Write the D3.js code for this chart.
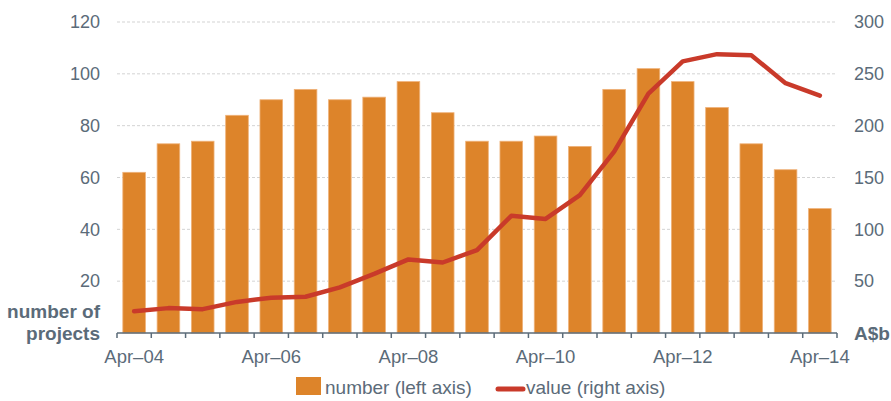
<!DOCTYPE html>
<html>
<head>
<meta charset="utf-8">
<script src="https://cdn.jsdelivr.net/npm/d3@7"></script>
<style>
  body { margin: 0; background: #fff; }
  svg { font-family: "Liberation Sans", Arial, sans-serif; }
</style>
</head>
<body>
<div id="chart"></div>
<script>
// half-yearly periods, Apr-04 .. Apr-14
const periods = ["Apr-04", "Oct-04", "Apr-05", "Oct-05", "Apr-06", "Oct-06", "Apr-07", "Oct-07",
  "Apr-08", "Oct-08", "Apr-09", "Oct-09", "Apr-10", "Oct-10", "Apr-11", "Oct-11",
  "Apr-12", "Oct-12", "Apr-13", "Oct-13", "Apr-14"];
const tickLabels = ["Apr–04", "Apr–06", "Apr–08", "Apr–10", "Apr–12", "Apr–14"];
const numberProjects = [62, 73, 74, 84, 90, 94, 90, 91, 97, 85, 74, 74, 76, 72, 94, 102, 97, 87, 73, 63, 48];
const valueAbn = [21, 24, 23, 30, 34, 35, 44, 57, 71, 68, 80, 113, 110, 133, 175, 231, 262, 269, 268, 241, 229];
const leftTicks = [20, 40, 60, 80, 100, 120];
const rightTicks = [50, 100, 150, 200, 250, 300];

const width = 891, height = 401;
const margin = { top: 22, right: 54, bottom: 68, left: 117 };
const innerW = width - margin.left - margin.right;
const innerH = height - margin.top - margin.bottom;
const textColor = "#5b6b79";

const svg = d3.select("#chart").append("svg")
  .attr("width", width)
  .attr("height", height);

const g = svg.append("g")
  .attr("transform", `translate(${margin.left},${margin.top})`);

const x = d3.scaleBand()
  .domain(periods)
  .range([0, innerW])
  .paddingInner(0.34)
  .paddingOuter(0.17);

const yLeft = d3.scaleLinear().domain([0, 120]).range([innerH, 0]);
const yRight = d3.scaleLinear().domain([0, 300]).range([innerH, 0]);

// gridlines
g.append("g")
  .selectAll("line")
  .data(leftTicks)
  .join("line")
  .attr("x1", 0)
  .attr("x2", innerW)
  .attr("y1", d => yLeft(d))
  .attr("y2", d => yLeft(d))
  .attr("stroke", "#d3d3d3")
  .attr("stroke-width", 1)
  .attr("stroke-dasharray", "3,2");

// bars
g.append("g")
  .selectAll("rect")
  .data(numberProjects)
  .join("rect")
  .attr("x", (d, i) => x(periods[i]))
  .attr("y", d => yLeft(d))
  .attr("width", x.bandwidth())
  .attr("height", d => innerH - yLeft(d))
  .attr("fill", "#dd842a")
  .attr("stroke", "#efb27a")
  .attr("stroke-width", 0.8);

// line
const line = d3.line()
  .x((d, i) => x(periods[i]) + x.bandwidth() / 2)
  .y(d => yRight(d));

g.append("path")
  .datum(valueAbn)
  .attr("fill", "none")
  .attr("stroke", "#c93a2a")
  .attr("stroke-width", 4.5)
  .attr("stroke-linejoin", "round")
  .attr("stroke-linecap", "round")
  .attr("d", line);

// x axis: ticks at band edges, labels every 4th period
const xAxisG = g.append("g").attr("transform", `translate(0,${innerH})`);
xAxisG.append("line")
  .attr("x1", 0).attr("x2", innerW)
  .attr("stroke", textColor).attr("stroke-width", 1.5);
xAxisG.selectAll("line.tick")
  .data(d3.range(periods.length + 1))
  .join("line")
  .attr("class", "tick")
  .attr("x1", i => i * x.step())
  .attr("x2", i => i * x.step())
  .attr("y1", 0)
  .attr("y2", 5)
  .attr("stroke", textColor)
  .attr("stroke-width", 1.5);
xAxisG.selectAll("text")
  .data(tickLabels)
  .join("text")
  .attr("x", (d, i) => x(periods[i * 4]) + x.bandwidth() / 2)
  .attr("y", 30)
  .attr("text-anchor", "middle")
  .attr("fill", textColor)
  .attr("font-size", 18.5)
  .text(d => d);

// left axis labels
g.append("g")
  .selectAll("text")
  .data(leftTicks)
  .join("text")
  .attr("x", -17)
  .attr("y", d => yLeft(d))
  .attr("dy", "0.35em")
  .attr("text-anchor", "end")
  .attr("fill", textColor)
  .attr("font-size", 18)
  .text(d => d);

// right axis labels
g.append("g")
  .selectAll("text")
  .data(rightTicks)
  .join("text")
  .attr("x", innerW + 17)
  .attr("y", d => yRight(d))
  .attr("dy", "0.35em")
  .attr("fill", textColor)
  .attr("font-size", 18)
  .text(d => d);

// axis titles
const leftTitle = g.append("text")
  .attr("text-anchor", "end")
  .attr("fill", textColor)
  .attr("font-size", 19)
  .attr("font-weight", "bold");
leftTitle.append("tspan").attr("x", -17).attr("y", innerH - 15).text("number of");
leftTitle.append("tspan").attr("x", -17).attr("y", innerH + 7).text("projects");

g.append("text")
  .attr("x", innerW + 17)
  .attr("y", innerH)
  .attr("dy", "0.35em")
  .attr("fill", textColor)
  .attr("font-size", 19)
  .attr("font-weight", "bold")
  .text("A$b");

// legend
const legend = svg.append("g");
legend.append("rect")
  .attr("x", 296).attr("y", 377)
  .attr("width", 25).attr("height", 18)
  .attr("fill", "#dd842a");
legend.append("text")
  .attr("x", 325).attr("y", 394)
  .attr("fill", textColor)
  .attr("font-size", 19)
  .text("number (left axis)");
legend.append("line")
  .attr("x1", 498).attr("x2", 523)
  .attr("y1", 389).attr("y2", 389)
  .attr("stroke", "#c93a2a")
  .attr("stroke-width", 5)
  .attr("stroke-linecap", "round");
legend.append("text")
  .attr("x", 526).attr("y", 394)
  .attr("fill", textColor)
  .attr("font-size", 19)
  .text("value (right axis)");
</script>
</body>
</html>
